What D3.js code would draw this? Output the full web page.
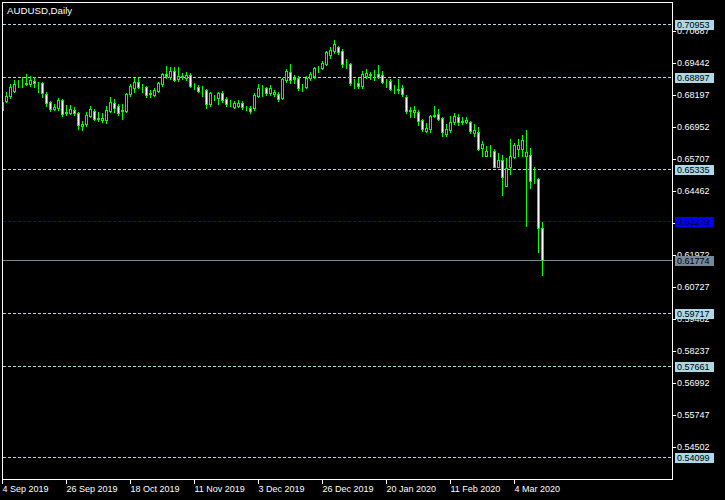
<!DOCTYPE html>
<html><head><meta charset="utf-8">
<script src="https://cdn.jsdelivr.net/npm/d3@7"></script>
<style>
html,body{margin:0;padding:0;background:#000;overflow:hidden}
svg{display:block}
</style></head><body>
<svg id="c" width="725" height="500"></svg>
<script>
const title = "AUDUSD,Daily";
const opens = [0.6761,0.6796,0.6816,0.6837,0.6865,0.6867,0.6863,0.6863,0.6874,0.6867,
0.6867,0.6825,0.6792,0.6767,0.6769,0.6800,0.6750,0.6750,0.6761,0.6748,
0.6701,0.6707,0.6738,0.6757,0.6732,0.6724,0.6722,0.6757,0.6788,0.6777,
0.6757,0.6759,0.6822,0.6845,0.6870,0.6853,0.6849,0.6825,0.6820,0.6835,
0.6863,0.6901,0.6888,0.6913,0.6882,0.6892,0.6885,0.6898,0.6855,0.6852,
0.6839,0.6839,0.6783,0.6811,0.6807,0.6829,0.6803,0.6785,0.6774,0.6778,
0.6790,0.6770,0.6770,0.6768,0.6817,0.6849,0.6846,0.6828,0.6824,0.6824,
0.6807,0.6877,0.6909,0.6882,0.6887,0.6853,0.6851,0.6885,0.6894,0.6921,
0.6924,0.6942,0.6975,0.6991,0.7007,0.6991,0.6942,0.6939,0.6868,0.6867,
0.6855,0.6894,0.6901,0.6898,0.6902,0.6897,0.6872,0.6874,0.6847,0.6843,
0.6848,0.6812,0.6761,0.6752,0.6754,0.6722,0.6681,0.6689,0.6738,0.6745,
0.6729,0.6667,0.6684,0.6713,0.6734,0.6713,0.6713,0.6715,0.6672,0.6676,
0.6612,0.6584,0.6602,0.6602,0.6541,0.6567,0.6466,0.6538,0.6579,0.6610,
0.6608,0.6584,0.6587,0.6487,0.6492,0.6303];
const highs = [0.6800,0.6831,0.6863,0.6878,0.6880,0.6888,0.6901,0.6892,0.6888,0.6870,
0.6872,0.6831,0.6796,0.6783,0.6808,0.6806,0.6780,0.6779,0.6773,0.6754,
0.6720,0.6752,0.6775,0.6765,0.6752,0.6748,0.6775,0.6810,0.6804,0.6785,
0.6783,0.6826,0.6861,0.6884,0.6886,0.6863,0.6855,0.6839,0.6847,0.6871,
0.6906,0.6933,0.6928,0.6930,0.6928,0.6906,0.6910,0.6904,0.6866,0.6859,
0.6855,0.6843,0.6833,0.6821,0.6833,0.6835,0.6811,0.6800,0.6798,0.6800,
0.6798,0.6778,0.6777,0.6826,0.6863,0.6858,0.6852,0.6857,0.6841,0.6831,
0.6887,0.6920,0.6939,0.6898,0.6894,0.6864,0.6894,0.6909,0.6930,0.6933,
0.6952,0.6991,0.7007,0.7034,0.7011,0.6998,0.6959,0.6945,0.6883,0.6887,
0.6913,0.6920,0.6909,0.6916,0.6937,0.6913,0.6881,0.6881,0.6858,0.6883,
0.6858,0.6820,0.6774,0.6777,0.6761,0.6726,0.6710,0.6741,0.6777,0.6764,
0.6735,0.6706,0.6738,0.6751,0.6746,0.6733,0.6733,0.6720,0.6707,0.6694,
0.6641,0.6623,0.6625,0.6608,0.6595,0.6587,0.6573,0.6649,0.6632,0.6647,
0.6664,0.6684,0.6615,0.6538,0.6495,0.6327];
const lows = [0.6754,0.6792,0.6808,0.6833,0.6849,0.6849,0.6859,0.6855,0.6851,0.6831,
0.6812,0.6777,0.6757,0.6761,0.6761,0.6738,0.6742,0.6744,0.6742,0.6689,
0.6684,0.6699,0.6734,0.6722,0.6720,0.6716,0.6712,0.6752,0.6752,0.6742,
0.6725,0.6754,0.6816,0.6833,0.6845,0.6833,0.6810,0.6811,0.6816,0.6833,
0.6856,0.6885,0.6883,0.6875,0.6875,0.6881,0.6878,0.6852,0.6842,0.6830,
0.6816,0.6768,0.6778,0.6800,0.6785,0.6794,0.6778,0.6778,0.6768,0.6772,
0.6765,0.6761,0.6748,0.6761,0.6811,0.6816,0.6820,0.6820,0.6816,0.6796,
0.6803,0.6871,0.6867,0.6867,0.6838,0.6835,0.6846,0.6878,0.6887,0.6911,
0.6920,0.6938,0.6965,0.6984,0.6978,0.6930,0.6926,0.6857,0.6848,0.6848,
0.6848,0.6887,0.6883,0.6877,0.6887,0.6867,0.6851,0.6839,0.6826,0.6829,
0.6816,0.6751,0.6735,0.6735,0.6704,0.6681,0.6677,0.6677,0.6733,0.6722,
0.6662,0.6662,0.6677,0.6707,0.6703,0.6706,0.6710,0.6671,0.6662,0.6606,
0.6584,0.6582,0.6582,0.6538,0.6538,0.6431,0.6464,0.6511,0.6576,0.6584,
0.6584,0.6310,0.6459,0.6477,0.6210,0.6119];
const closes = [0.6792,0.6816,0.6849,0.6863,0.6867,0.6865,0.6867,0.6878,0.6865,0.6865,
0.6828,0.6790,0.6765,0.6773,0.6800,0.6746,0.6754,0.6765,0.6748,0.6703,
0.6707,0.6742,0.6765,0.6728,0.6726,0.6730,0.6761,0.6792,0.6771,0.6750,
0.6763,0.6822,0.6855,0.6870,0.6851,0.6855,0.6818,0.6827,0.6841,0.6865,
0.6901,0.6892,0.6913,0.6878,0.6894,0.6891,0.6898,0.6856,0.6854,0.6836,
0.6838,0.6783,0.6826,0.6812,0.6826,0.6800,0.6783,0.6783,0.6790,0.6790,
0.6774,0.6769,0.6757,0.6820,0.6846,0.6850,0.6826,0.6845,0.6831,0.6804,
0.6881,0.6913,0.6878,0.6884,0.6848,0.6855,0.6887,0.6900,0.6924,0.6922,
0.6945,0.6987,0.6995,0.7019,0.6987,0.6942,0.6940,0.6867,0.6867,0.6855,
0.6900,0.6906,0.6899,0.6896,0.6891,0.6871,0.6870,0.6844,0.6845,0.6841,
0.6822,0.6759,0.6759,0.6761,0.6720,0.6686,0.6693,0.6738,0.6742,0.6726,
0.6675,0.6686,0.6713,0.6738,0.6715,0.6719,0.6722,0.6680,0.6684,0.6610,
0.6628,0.6602,0.6601,0.6541,0.6567,0.6502,0.6537,0.6582,0.6625,0.6625,
0.6645,0.6597,0.6485,0.6486,0.6301,0.6178];
const timeTickIndex = [0,16,32,48,64,80,96,112,128];
const timeTickLabels = ["4 Sep 2019","26 Sep 2019","18 Oct 2019","11 Nov 2019","3 Dec 2019","26 Dec 2019","20 Jan 2020","11 Feb 2020","4 Mar 2020"];
const priceTicks = [0.70687,0.69442,0.68197,0.66952,0.65707,0.64462,0.63217,0.61972,0.60727,0.59482,0.58237,0.56992,0.55747,0.54502];
const levelLines = [0.70953,0.68897,0.65335,0.59717,0.57661,0.54099];
const blueLevel = 0.63279;
const bidPrice = 0.61774;

const FONT = '"Liberation Sans", Arial, sans-serif';
const svg = d3.select("#c");
svg.append("rect").attr("width",725).attr("height",500).attr("fill","#000");

const x = d3.scaleLinear().domain([0,135]).range([2,542]);
const y = d3.scaleLinear().domain([0.54502,0.70687]).range([447,31]);
const row = p => Math.round(y(p));
const L = 3, R = 672;

svg.append("defs").append("clipPath").attr("id","plot")
  .append("rect").attr("x",3).attr("y",3).attr("width",669).attr("height",476);

const plot = svg.append("g").attr("clip-path","url(#plot)");

// horizontal level lines
plot.selectAll("line.lvl").data(levelLines).join("line").attr("class","lvl")
  .attr("x1",L).attr("x2",R)
  .attr("y1",d=>row(d)+0.5).attr("y2",d=>row(d)+0.5)
  .attr("stroke","#add8e6").attr("stroke-dasharray","3,2");
plot.append("line").attr("x1",L).attr("x2",R)
  .attr("y1",row(blueLevel)+0.5).attr("y2",row(blueLevel)+0.5)
  .attr("stroke","#0000ff").attr("stroke-dasharray","3,2");
plot.append("line").attr("x1",L).attr("x2",R)
  .attr("y1",row(bidPrice)+0.5).attr("y2",row(bidPrice)+0.5)
  .attr("stroke","#778899");

// candles
const idx = d3.range(closes.length);
plot.append("g").selectAll("rect").data(idx).join("rect")
  .attr("x",i=>x(i)).attr("y",i=>row(highs[i]))
  .attr("width",1).attr("height",i=>row(lows[i])-row(highs[i])+1)
  .attr("fill","#00ff00");
plot.append("g").selectAll("rect").data(idx).join("rect")
  .attr("x",i=>x(i)-0.5)
  .attr("y",i=>Math.min(row(opens[i]),row(closes[i]))+0.5)
  .attr("width",2)
  .attr("height",i=>Math.abs(row(opens[i])-row(closes[i])))
  .attr("fill",i=>closes[i]<opens[i]?"#ffffff":"#000000")
  .attr("stroke","#00ff00").attr("stroke-width",1);

// frame
svg.append("rect").attr("x",2.5).attr("y",2.5).attr("width",670).attr("height",477)
  .attr("fill","none").attr("stroke","#ffffff");

// title
svg.append("text").attr("x",7).attr("y",13.5).attr("fill","#fff")
  .attr("font-family",FONT).attr("font-size",9.7).text(title);

// y axis
const yAxis = d3.axisRight(y).tickValues(priceTicks).tickSize(3).tickPadding(1)
  .tickFormat(d3.format(".5f"));
svg.append("g").attr("transform","translate(673,0)").call(yAxis)
  .attr("font-family",FONT).attr("font-size",9)
  .call(g=>g.select(".domain").remove())
  .call(g=>{g.selectAll("line").attr("stroke","#fff"); g.selectAll("text").attr("fill","#fff");});

// x axis
const xAxis = d3.axisBottom(x).tickValues(timeTickIndex).tickSize(4).tickPadding(2)
  .tickFormat((d,i)=>timeTickLabels[i]);
svg.append("g").attr("transform","translate(0,480)").call(xAxis)
  .attr("font-family",FONT).attr("font-size",9)
  .call(g=>g.select(".domain").remove())
  .call(g=>{g.selectAll("line").attr("stroke","#fff");
    g.selectAll("text").attr("fill","#fff").attr("text-anchor","start");});

// price labels
const labels = levelLines.map(p=>({p,bg:"#add8e6",fg:"#000"}))
  .concat([{p:blueLevel,bg:"#0000ff",fg:"#000"},{p:bidPrice,bg:"#778899",fg:"#000"}]);
const lg = svg.append("g");
lg.selectAll("rect").data(labels).join("rect")
  .attr("x",675).attr("y",d=>row(d.p)-4).attr("width",39).attr("height",10)
  .attr("fill",d=>d.bg);
lg.selectAll("text").data(labels).join("text")
  .attr("x",677).attr("y",d=>row(d.p)+4).attr("fill",d=>d.fg)
  .attr("font-family",FONT).attr("font-size",9)
  .text(d=>d3.format(".5f")(d.p));
</script>
</body></html>
